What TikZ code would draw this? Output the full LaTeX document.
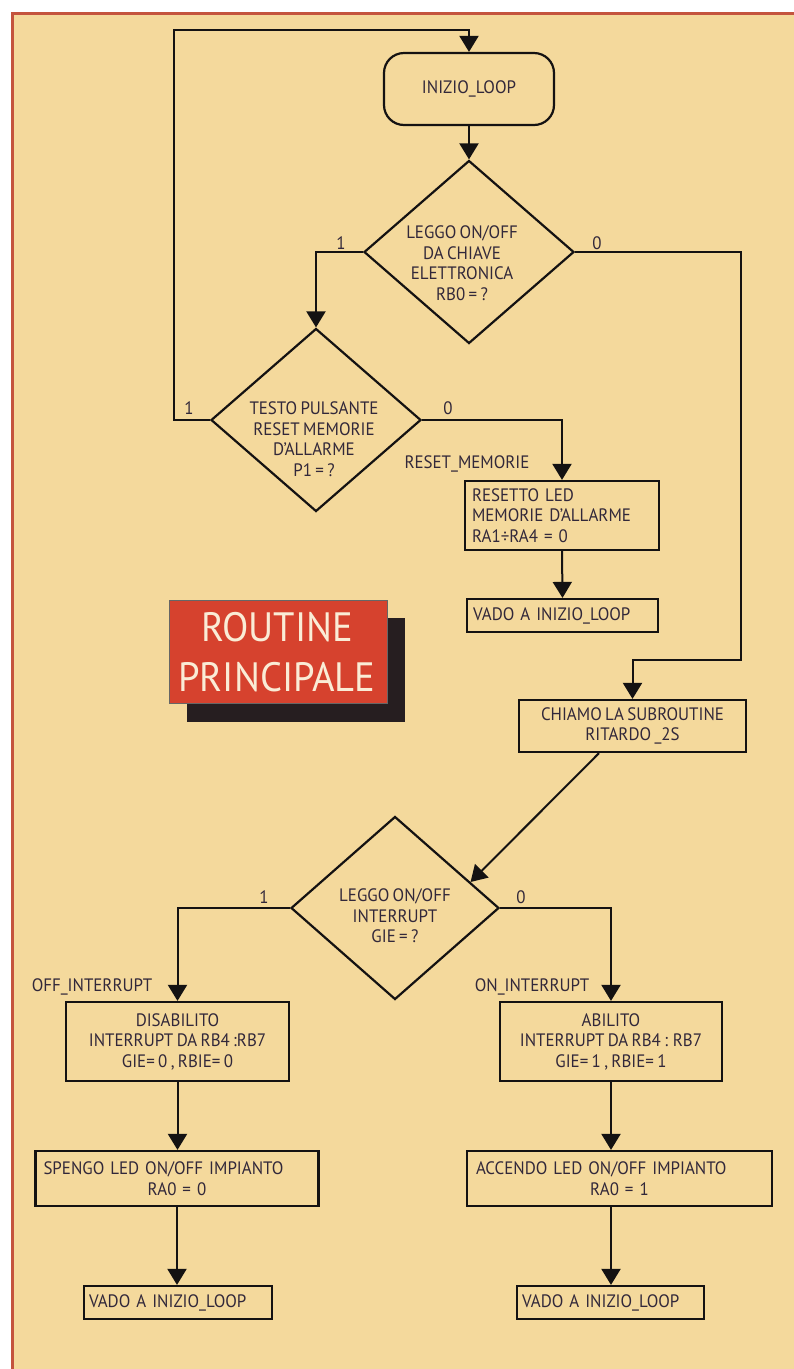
\documentclass[tikz,border=0pt]{standalone}
\usepackage{fontspec}
\setmainfont[FakeStretch=0.94,WordSpace=0.75]{PT Sans}
\usetikzlibrary{arrows.meta,shapes.geometric}
\definecolor{bg}{RGB}{244,217,156}
\definecolor{redline}{RGB}{196,84,62}
\definecolor{redbox}{RGB}{214,66,46}
\definecolor{shadowc}{RGB}{38,30,32}
\definecolor{txt}{RGB}{50,40,58}
\definecolor{cream}{RGB}{250,236,214}
\definecolor{ink}{RGB}{20,18,18}
\begin{document}
\begin{tikzpicture}[x=1pt,y=-1pt,
  every node/.style={font=\fontsize{18}{20.5}\selectfont, text=txt, inner sep=0pt},
  arr/.style={draw=ink, line width=2pt, -{Triangle[length=16pt,width=19pt]}},
  box/.style={draw=ink, line width=2.2pt, rectangle},
  dec/.style={draw=ink, line width=2.2pt, diamond, minimum width=210pt, minimum height=183pt}]
\useasboundingbox (0,0) rectangle (794,1369);
\fill[white] (0,0) rectangle (794,1369);
\fill[bg] (12,13) rectangle (794,1369);
\draw[redline, line width=3pt] (12,1369) -- (12,13) -- (794,13);

% nodes
\node[box, rounded corners=20pt, minimum width=170pt, minimum height=72pt] (start) at (469,89) {INIZIO\_LOOP};
\node[dec] (d1) at (469,252) {};
\node[align=center] (d1t) at (462,263) {LEGGO ON/OFF\\DA CHIAVE\\ELETTRONICA\\RB0 = ?};
\node[dec] (d2) at (316,420) {};
\node[align=center] (d2t) at (314,439) {TESTO PULSANTE\\RESET MEMORIE\\D'ALLARME\\P1 = ?};
\node[box, minimum width=194pt, minimum height=69pt, text width=180pt, align=left] (rst) at (562,515.5) {RESETTO LED\\MEMORIE D'ALLARME\\RA1÷RA4 = 0};
\node[box, minimum width=191pt, minimum height=33pt, text width=179pt, align=left] (v1) at (562.5,615.5) {VADO A INIZIO\_LOOP};
\node[box, minimum width=227pt, minimum height=52pt, align=center] (ch) at (632.5,726) {CHIAMO LA SUBROUTINE\\RITARDO \_2S};
\node[dec, minimum width=208pt] (d3) at (395,908) {};
\node[align=center] (d3t) at (395,916) {LEGGO ON/OFF\\INTERRUPT\\GIE = ?};
\node[box, minimum width=223pt, minimum height=79pt, align=center] (dis) at (177.5,1041.5) {DISABILITO\\INTERRUPT DA RB4 :RB7\\GIE= 0 , RBIE= 0};
\node[box, minimum width=222pt, minimum height=79pt, align=center] (abi) at (611,1041.5) {ABILITO\\INTERRUPT DA RB4 : RB7\\GIE= 1 , RBIE= 1};
\node[box, minimum width=283pt, minimum height=55pt, text width=267pt, align=left] (spe) at (177,1178.5) {SPENGO LED ON/OFF IMPIANTO\\\makebox[\linewidth]{RA0 = 0}};
\node[box, minimum width=305pt, minimum height=55pt, text width=287pt, align=left] (acc) at (619.5,1178.5) {ACCENDO LED ON/OFF IMPIANTO\\\makebox[\linewidth]{RA0 = 1}};
\node[box, minimum width=188pt, minimum height=33pt, text width=178pt, align=left] (v2) at (178,1302.5) {VADO A INIZIO\_LOOP};
\node[box, minimum width=187pt, minimum height=33pt, text width=177pt, align=left] (v3) at (610.5,1302.5) {VADO A INIZIO\_LOOP};

% title block
\fill[shadowc] (187,618) rectangle (405,722);
\node[fill=redbox, draw=black!60, line width=0.8pt, minimum width=218pt, minimum height=103pt, anchor=north west] (rout) at (169,600) {};
\node[font=\fontsize{41}{50}\selectfont, text=cream, align=center] (routt) at (277,652) {ROUTINE\\PRINCIPALE};

% labels
\node (l1a) at (341,243) {1};
\node (l0a) at (597,243) {0};
\node (l1b) at (189,408) {1};
\node (l0b) at (448,408) {0};
\node (lrst) at (467,464) {RESET\_MEMORIE};
\node (l1c) at (264,897) {1};
\node (l0c) at (521,897) {0};
\node (loff) at (92,987) {OFF\_INTERRUPT};
\node (lon) at (532,987) {ON\_INTERRUPT};

% connectors
\coordinate (lb) at (174,420);
\coordinate (lt) at (174,30);
\coordinate (rr) at (741,252);
\coordinate (rb) at (741,660);
\draw[arr] (d2.west) -- (lb) -- (lt) -| (start.north);
\draw[arr] (start.south) -- (d1.north);
\draw[arr] (d1.west) -| (d2.north);
\draw[arr] (d2.east) -| (rst.north);
\draw[arr] (rst.south) -- (v1.north);
\draw[arr] (d1.east) -- (rr) -- (rb) -| (ch.north);
\draw[arr] (ch.219) -- (d3.19);
\draw[arr] (d3.west) -| (dis.north);
\draw[arr] (d3.east) -| (abi.north);
\draw[arr] (dis.south) -- (spe.north -| dis.south);
\draw[arr] (abi.south) -- (acc.north -| abi.south);
\draw[arr] (spe.south) -- (v2.north -| spe.south);
\draw[arr] (acc.south -| abi.south) -- (v3.north -| abi.south);
\end{tikzpicture}
\end{document}
